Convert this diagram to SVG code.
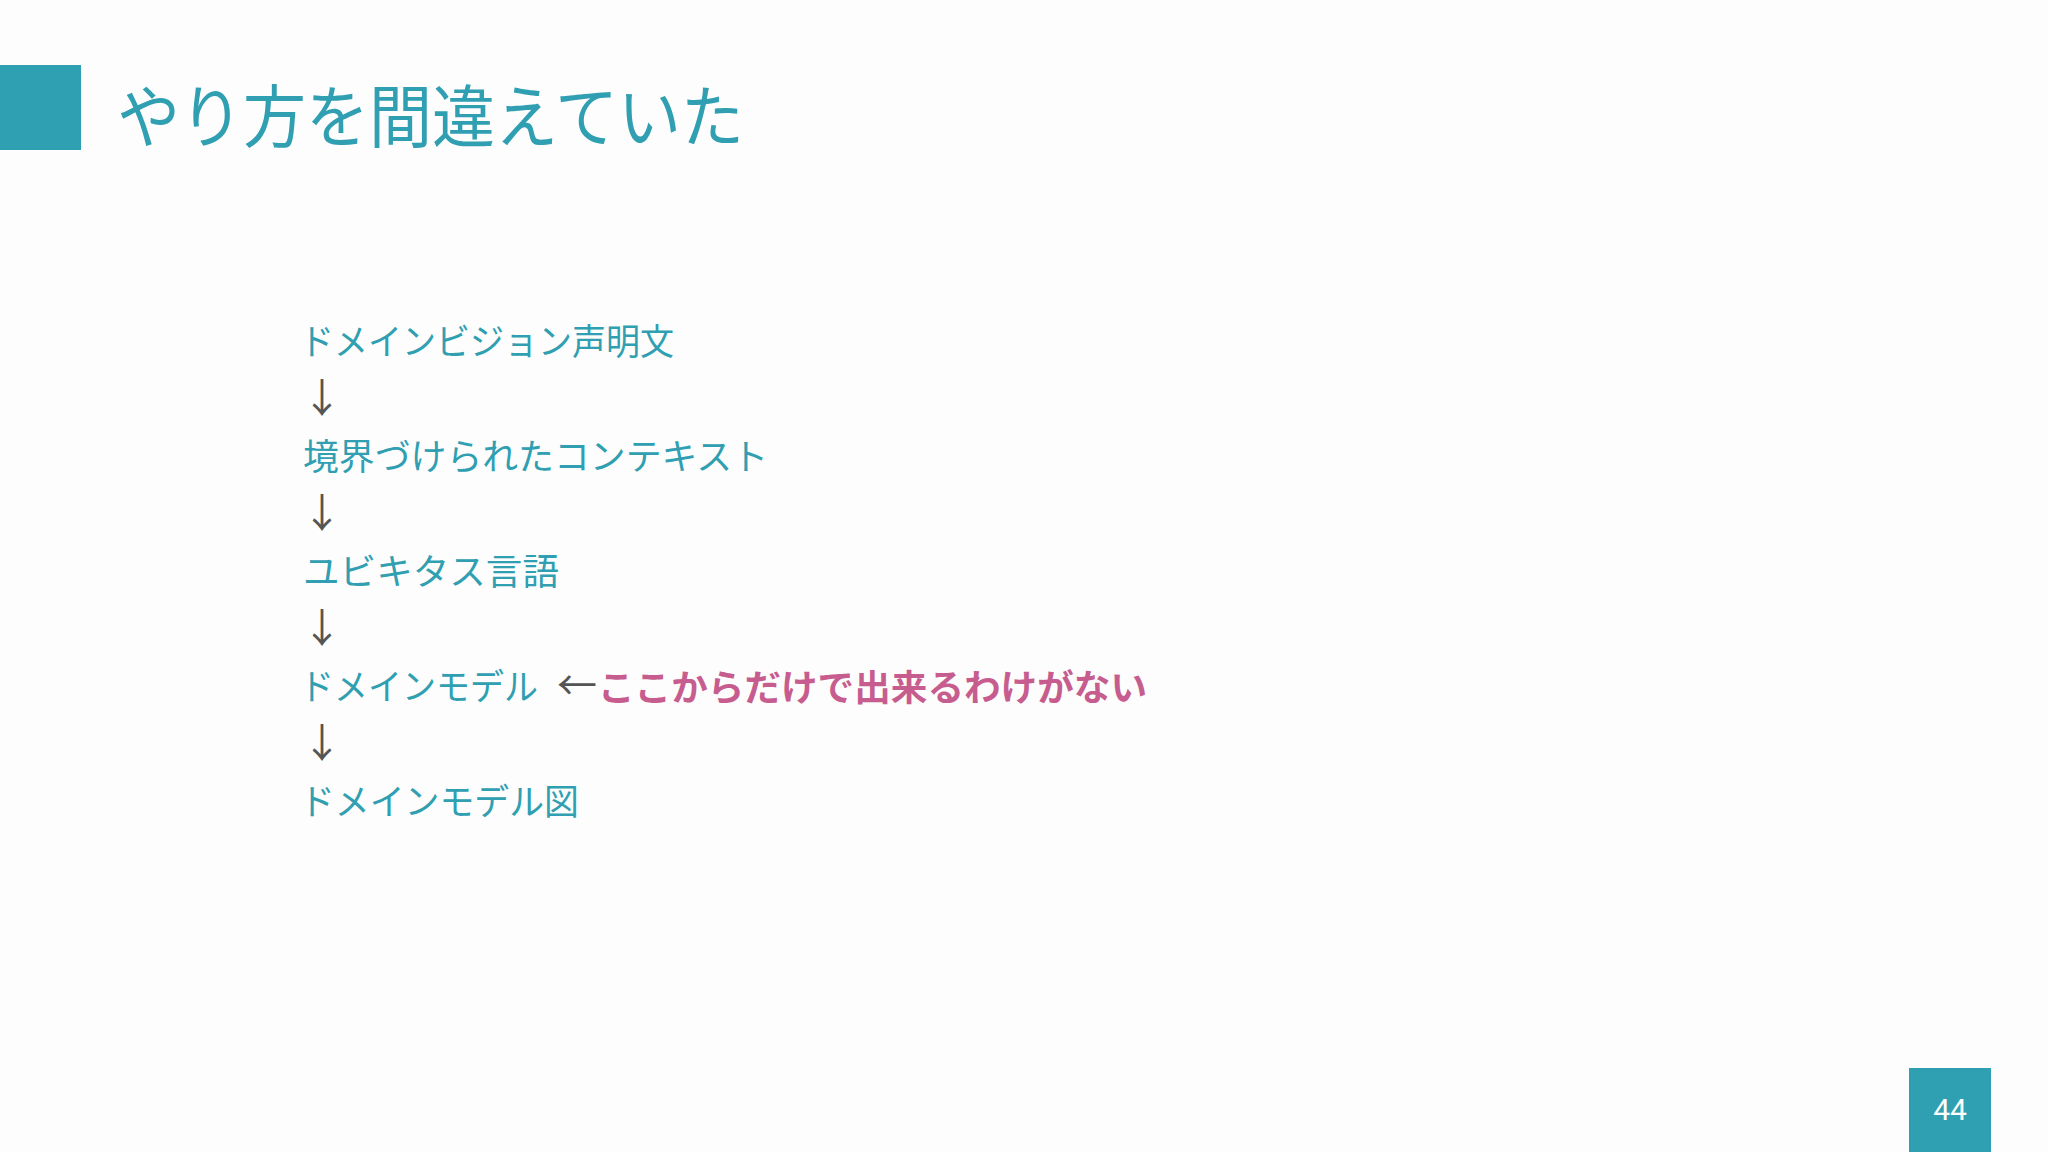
<svg xmlns="http://www.w3.org/2000/svg" width="2048" height="1152" viewBox="0 0 2048 1152">
<style>
.t{font-family:"Noto Sans CJK JP","Noto Sans",sans-serif;fill:#2f9fb1;font-size:36px}
.a{font-family:"Noto Sans CJK JP","DejaVu Sans",sans-serif;fill:#555;font-size:40px}
.p{font-family:"Noto Sans CJK JP","Noto Sans",sans-serif;fill:#c75d8f;font-size:36px;font-weight:bold}
</style>
<rect width="2048" height="1152" fill="#fdfdfd"/>
<g id="title">
<rect x="0" y="65" width="81" height="85" fill="#2fa0b2"/>
<text x="117" y="142" font-family="'Noto Sans CJK JP','Noto Sans',sans-serif" font-size="68" fill="#2f9fb1" textLength="627" lengthAdjust="spacingAndGlyphs">やり方を間違えていた</text>
</g>
<g id="node1"><text class="t" x="300" y="355" textLength="374" lengthAdjust="spacingAndGlyphs">ドメインビジョン声明文</text></g>
<g id="node2"><text class="t" x="303" y="470" textLength="465" lengthAdjust="spacingAndGlyphs">境界づけられたコンテキスト</text></g>
<g id="node3"><text class="t" x="303" y="585" textLength="256" lengthAdjust="spacingAndGlyphs">ユビキタス言語</text></g>
<g id="node4"><text class="t" x="300" y="700" textLength="238" lengthAdjust="spacingAndGlyphs">ドメインモデル</text></g>
<g id="node5"><text class="t" x="300" y="815" textLength="279" lengthAdjust="spacingAndGlyphs">ドメインモデル図</text></g>
<g id="note"><text class="p" x="598" y="701" textLength="549" lengthAdjust="spacingAndGlyphs">ここからだけで出来るわけがない</text></g>
<g id="connectors">
<text class="a" x="322" y="412" text-anchor="middle">↓</text>
<text class="a" x="322" y="527" text-anchor="middle">↓</text>
<text class="a" x="322" y="642" text-anchor="middle">↓</text>
<text class="a" x="322" y="757" text-anchor="middle">↓</text>
<text class="a" x="577" y="700" text-anchor="middle">←</text>
</g>
<g id="page">
<rect x="1909" y="1068" width="82" height="84" fill="#2fa0b2"/>
<text x="1950" y="1120" text-anchor="middle" font-family="Roboto,'Liberation Sans',sans-serif" font-size="30" fill="#fff">44</text>
</g>
</svg>
